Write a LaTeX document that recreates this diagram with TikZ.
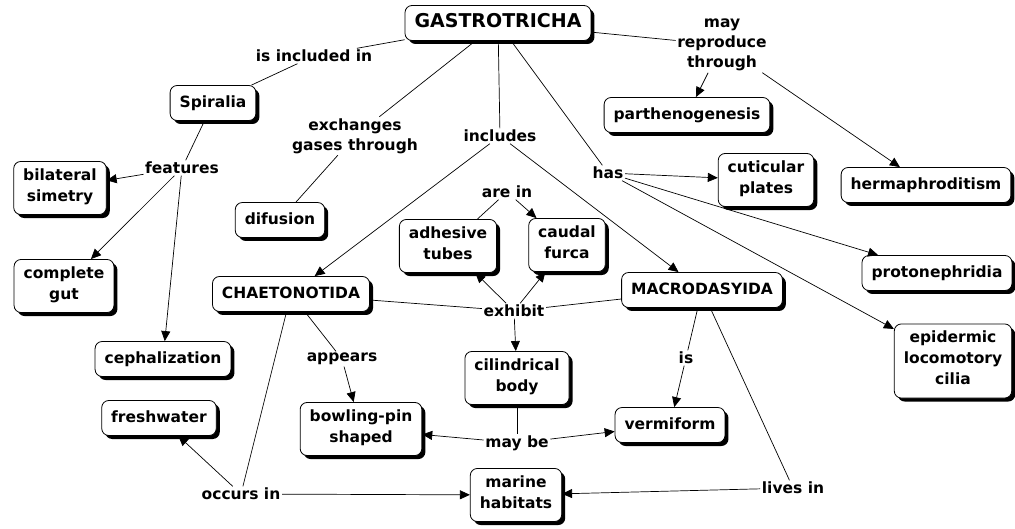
\documentclass[tikz,border=0pt]{standalone}
\usepackage{fontspec}
\setmainfont{DejaVu Sans}
\usetikzlibrary{arrows.meta,shadows}

\tikzset{
  concept/.style={draw, line width=0.8pt, rounded corners=7pt, fill=white, align=center,
    inner xsep=9.5pt, inner ysep=7pt, font=\fontsize{15.5}{21}\selectfont\bfseries,
    drop shadow={shadow xshift=3.5pt, shadow yshift=-3.5pt, opacity=1, fill=black},
    execute at begin node=\strut, execute at end node=\strut},
  lien/.style={align=center, inner sep=1.5pt, font=\fontsize{15.5}{20}\selectfont\bfseries},
  fl/.style={-{Triangle[length=10pt,width=9pt]}, line width=0.7pt},
  tr/.style={line width=0.7pt}
}

\begin{document}
\begin{tikzpicture}[x=1pt, y=-1pt]
  \useasboundingbox (0,0) rectangle (1015,529);
  % Concepts
  \node[concept, font=\fontsize{19}{21}\selectfont\bfseries] (gastro) at (498,23) {GASTROTRICHA};
  \node[concept] (spiralia) at (213,103) {Spiralia};
  \node[concept] (bilateral) at (60,188) {bilateral\\simetry};
  \node[concept] (gut) at (64,286) {complete\\gut};
  \node[concept] (cephal) at (163,359) {cephalization};
  \node[concept] (fresh) at (159,418) {freshwater};
  \node[concept] (difusion) at (280,220) {difusion};
  \node[concept] (chaeto) at (291,294) {CHAETONOTIDA};
  \node[concept] (adhesive) at (448,246) {adhesive\\tubes};
  \node[concept] (caudal) at (567,245) {caudal\\furca};
  \node[concept] (partheno) at (687,115) {parthenogenesis};
  \node[concept] (cuticular) at (766,180) {cuticular\\plates};
  \node[concept] (hermaph) at (926,185) {hermaphroditism};
  \node[concept] (protoneph) at (937,273) {protonephridia};
  \node[concept] (cilia) at (953,361) {epidermic\\locomotory\\cilia};
  \node[concept] (macro) at (702,290) {MACRODASYIDA};
  \node[concept] (cilind) at (517,378) {cilindrical\\body};
  \node[concept] (bowling) at (361,429) {bowling-pin\\shaped};
  \node[concept] (vermi) at (670,425) {vermiform};
  \node[concept] (marine) at (516,495) {marine\\habitats};
  % Mots de liaison
  \node[lien] (incl) at (314,56) {is included in};
  \node[lien] (feat) at (182,168) {features};
  \node[lien] (exch) at (355,136) {exchanges\\gases through};
  \node[lien] (inclu) at (500,136) {includes};
  \node[lien] (has) at (608,173) {has};
  \node[lien] (mayrep) at (722,45) {may\\reproduce\\through};
  \node[lien] (arein) at (507,192) {are in};
  \node[lien] (exhib) at (514,311) {exhibit};
  \node[lien] (appears) at (342,359) {appears};
  \node[lien] (maybe) at (517,443) {may be};
  \node[lien] (is) at (686,358) {is};
  \node[lien] (occurs) at (241,494) {occurs in};
  \node[lien] (lives) at (793,488) {lives in};
  % Liens
  \draw[tr] (gastro) -- (incl);
  \draw[tr] (incl) -- (spiralia);
  \draw[tr] (spiralia) -- (feat);
  \draw[fl] (feat) -- (bilateral);
  \draw[fl] (feat) -- (gut);
  \draw[fl] (feat) -- (cephal);
  \draw[tr] (gastro) -- (exch);
  \draw[tr] (exch) -- (difusion);
  \draw[tr] (gastro) -- (inclu);
  \draw[fl] (inclu) -- (chaeto);
  \draw[fl] (inclu) -- (macro);
  \draw[tr] (gastro) -- (has);
  \draw[fl] (has) -- (cuticular);
  \draw[fl] (has) -- (protoneph);
  \draw[fl] (has) -- (cilia);
  \draw[tr] (gastro) -- (mayrep);
  \draw[fl] (mayrep) -- (partheno);
  \draw[fl] (mayrep) -- (hermaph);
  \draw[tr] (adhesive) -- (arein);
  \draw[fl] (arein) -- (caudal);
  \draw[tr] (chaeto) -- (exhib);
  \draw[tr] (macro) -- (exhib);
  \draw[fl] (exhib) -- (adhesive);
  \draw[fl] (exhib) -- (caudal);
  \draw[fl] (exhib) -- (cilind);
  \draw[tr] (chaeto) -- (appears);
  \draw[fl] (appears) -- (bowling);
  \draw[tr] (chaeto) -- (occurs);
  \draw[fl] (occurs) -- (fresh);
  \draw[fl] (occurs) -- (marine);
  \draw[tr] (cilind) -- (maybe);
  \draw[fl] (maybe) -- (bowling);
  \draw[fl] (maybe) -- (vermi);
  \draw[tr] (macro) -- (is);
  \draw[fl] (is) -- (vermi);
  \draw[tr] (macro) -- (lives);
  \draw[fl] (lives) -- (marine);
\end{tikzpicture}
\end{document}
